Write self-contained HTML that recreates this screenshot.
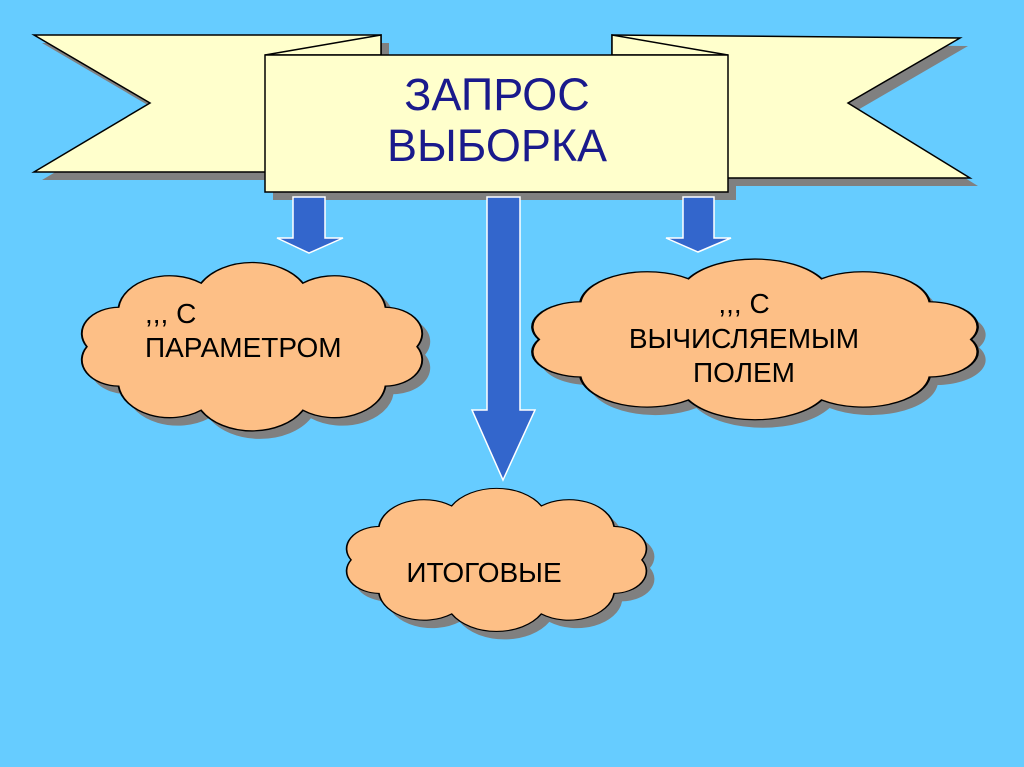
<!DOCTYPE html>
<html><head><meta charset="utf-8"><style>
body{margin:0;background:#66CCFF;}
svg{display:block}
text{font-family:"Liberation Sans",sans-serif}
</style></head><body>
<svg width="1024" height="767" viewBox="0 0 1024 767">
<defs>
<path id="cl" d="M98,30 A11,11 0 0 1 88.8,46.5 A15,15 0 0 1 64.8,56.6 A17,17 0 0 1 35.2,56.6 A15,15 0 0 1 11.2,46.5 A11,11 0 0 1 2,30 A11,11 0 0 1 11.2,13.5 A15,15 0 0 1 35.2,3.4 A17,17 0 0 1 64.8,3.4 A15,15 0 0 1 88.8,13.5 A11,11 0 0 1 98,30 Z"/>
</defs>
<rect width="1024" height="767" fill="#66CCFF"/>
<g fill="#808080" transform="translate(8,8)">
<polygon points="34,35 381,35 381,172 34,172 150,103"/>
<polygon points="612,35 960,38 848,103 970,178 612,178"/>
<rect x="265" y="55" width="463" height="137"/>
</g>
<polygon points="34,35 381,35 381,172 34,172 150,103" fill="#FFFFCC" stroke="#000" stroke-width="1.5"/>
<polygon points="612,35 960,38 848,103 970,178 612,178" fill="#FFFFCC" stroke="#000" stroke-width="1.5"/>
<polygon points="381,35 265,55 381,55" fill="#FFFFCC" stroke="#000" stroke-width="1.5"/>
<polygon points="612,35 728,55 612,55" fill="#FFFFCC" stroke="#000" stroke-width="1.5"/>
<rect x="265" y="55" width="463" height="137" fill="#FFFFCC" stroke="#000" stroke-width="1.5"/>
<text x="497" y="110" font-size="45" fill="#1a1a8c" text-anchor="middle">ЗАПРОС</text>
<text x="497" y="161" font-size="45" fill="#1a1a8c" text-anchor="middle">ВЫБОРКА</text>
<g fill="#3366CC" stroke="#fff" stroke-width="1.5">
<polygon points="293,197 325,197 325,238 343,238 309,253 277,238 293,238"/>
<polygon points="487,197 520,197 520,410 535,410 503,480 472,410 487,410"/>
<polygon points="683,197 714,197 714,238 731,238 698,252 666,238 683,238"/>
</g>
<g fill="#808080">
<use href="#cl" transform="translate(88,283) scale(3.44,2.39)"/>
<use href="#cl" transform="translate(538,279) scale(4.5,2.28)"/>
<use href="#cl" transform="translate(353,507) scale(3.03,2.03)"/>
</g>
<g fill="#FDBF86" stroke="#000" stroke-width="0.55">
<use href="#cl" transform="translate(80,275) scale(3.44,2.39)"/>
<use href="#cl" transform="translate(530,271) scale(4.5,2.28)"/>
<use href="#cl" transform="translate(345,499) scale(3.03,2.03)"/>
</g>
<g font-size="28" fill="#000">
<text x="145" y="323">,,, С</text>
<text x="145" y="357">ПАРАМЕТРОМ</text>
<text x="744" y="313" text-anchor="middle">,,, С</text>
<text x="744" y="348" text-anchor="middle">ВЫЧИСЛЯЕМЫМ</text>
<text x="744" y="382" text-anchor="middle">ПОЛЕМ</text>
<text x="484" y="582" text-anchor="middle">ИТОГОВЫЕ</text>
</g>
</svg>
</body></html>
